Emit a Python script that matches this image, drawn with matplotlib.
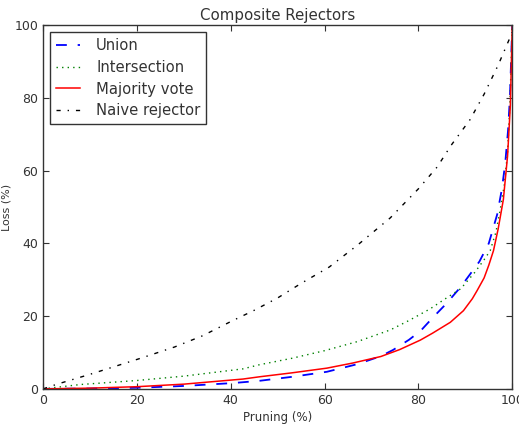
from matplotlib import pyplot as plt

# Values (pruning %, loss %)
naive_x = [0, 3, 10, 21, 28, 34, 40, 45, 50, 55, 61, 67, 74, 80, 84, 87, 91, 94, 97, 100]
naive_y = [0, 1.3, 4, 8.5, 11.5, 14.6, 18.5, 21.6, 25, 29, 33.5, 39.5, 47, 55, 61, 67, 74, 81, 89, 98]

inter_x = [0, 8, 20, 30, 42.6, 46, 53, 60, 67, 74, 78, 82.5, 86, 89, 92, 94, 95.3, 96.5, 97.4, 98.3, 99, 99.5, 100]
inter_y = [0, 1.2, 2.3, 3.5, 5.5, 6.6, 8.4, 10.5, 13, 16.2, 18.8, 22, 25, 27.5, 32, 35.5, 38, 43, 49, 56, 65, 78, 100]

major_x = [0, 10, 20, 30, 42.6, 46, 53, 60.5, 66, 72, 76, 80.4, 83, 86.8, 89.6, 91.5, 92.5, 94, 95, 96, 97, 98.1, 99, 99.6, 100]
major_y = [0, 0.2, 0.6, 1.3, 2.7, 3.3, 4.4, 5.7, 7.1, 8.9, 10.8, 13.4, 15.3, 18.3, 21.5, 24.8, 27, 30.5, 34, 38, 44, 52, 64, 78, 100]

union_x = [0, 10, 20, 30, 40.5, 46, 53, 60.5, 67, 72, 74.6, 78, 80.5, 83, 86, 89, 91, 93, 95, 96.8, 97.8, 98.5, 99.1, 99.5, 100]
union_y = [0, 0.1, 0.3, 0.8, 1.6, 2.2, 3.3, 4.7, 6.8, 9.0, 10.7, 13.5, 16.0, 19.5, 23.5, 28, 31.5, 35, 40, 48, 55, 62, 71, 80, 100]

fig = plt.figure(figsize=(5.19, 4.25), dpi=100)
ax = fig.add_axes([0.083, 0.085, 0.904, 0.856])

ax.plot(union_x, union_y, color='b', linestyle='--', dashes=(6, 6), lw=1.3, label='Union')
ax.plot(inter_x, inter_y, color=(0, 0.5, 0), linestyle=':', dashes=(1, 3), lw=1, label='Intersection')
ax.plot(major_x, major_y, color='r', lw=1.1, label='Majority vote')
ax.plot(naive_x, naive_y, color='k', linestyle='-.', dashes=(3, 5, 1, 5), lw=1, label='Naive rejector')

ax.set_xlim(0, 100)
ax.set_ylim(0, 100)
ax.set_xticks([0, 20, 40, 60, 80, 100])
ax.set_yticks([0, 20, 40, 60, 80, 100])
ax.tick_params(direction='in', top=True, right=True, labelsize=9, length=4, colors='#333333')
for s in ax.spines.values():
    s.set_color('#333333')
    s.set_linewidth(1)

ax.set_xlabel('Pruning (%)', fontsize=8.5, color='#333333', labelpad=3)
ax.set_ylabel('Loss (%)', fontsize=8, color='#333333')
ax.yaxis.set_label_coords(-0.068, 0.5)
ax.set_title('Composite Rejectors', fontsize=10.8, color='#333333', pad=4)

leg = ax.legend(loc='upper left', fontsize=10.6, fancybox=False, framealpha=1,
                edgecolor='#333333', borderaxespad=0.5, handlelength=1.6,
                handletextpad=1.1, labelspacing=0.45, borderpad=0.4)
leg.get_frame().set_linewidth(1)
for t in leg.get_texts():
    t.set_color('#333333')

fig.savefig('out.png', dpi=100)
